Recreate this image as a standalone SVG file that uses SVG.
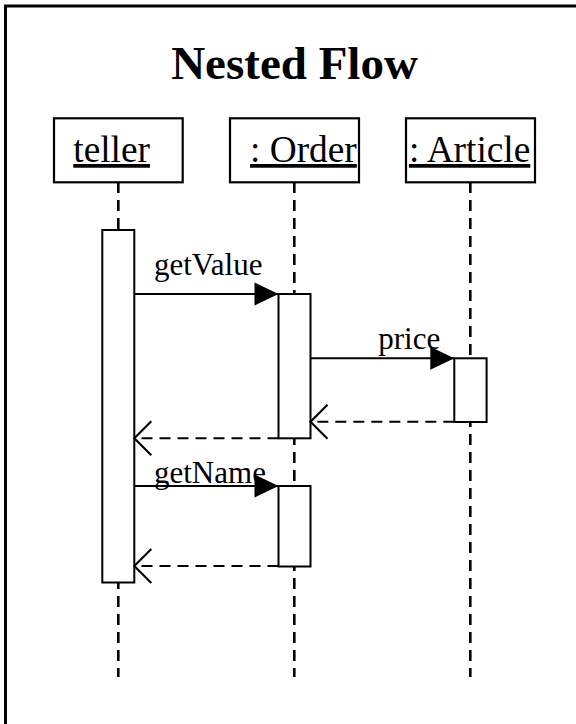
<svg xmlns="http://www.w3.org/2000/svg" width="576" height="724" viewBox="0 0 576 724">
<style>
.frame{fill:none;stroke:#000;stroke-width:3}
.box{fill:#fff;stroke:#000;stroke-width:2.2}
.bar{fill:#fff;stroke:#000;stroke-width:2}
.life{fill:none;stroke:#000;stroke-width:2.6;stroke-dasharray:11 7}
.msg{fill:none;stroke:#000;stroke-width:2}
.ret{fill:none;stroke:#000;stroke-width:2;stroke-dasharray:11 7}
.title{font-family:"Liberation Serif","Times New Roman",serif;font-weight:bold;font-size:47px;fill:#000}
.name{font-family:"Liberation Serif","Times New Roman",serif;font-size:37.33px;fill:#000;text-decoration:underline}
.lbl{font-family:"Liberation Serif","Times New Roman",serif;font-size:31px;fill:#000}
</style>
<defs>
<marker id="filled" markerUnits="userSpaceOnUse" markerWidth="24" markerHeight="23" viewBox="0 0 22 21" refX="22" refY="10.5" orient="auto" overflow="visible">
<path d="M0,0 L22,10.5 L0,21 Z" fill="#000"/>
</marker>
<marker id="open" markerUnits="userSpaceOnUse" markerWidth="18" markerHeight="34" viewBox="0 0 16 32" refX="16" refY="16" orient="auto" overflow="visible">
<path d="M0,0 L16,16 L0,32" fill="none" stroke="#000" stroke-width="2"/>
</marker>
</defs>
<rect class="frame" x="5.5" y="6" width="700" height="800"/>
<text class="title" x="294.5" y="79" text-anchor="middle">Nested Flow</text>
<g id="lifelines">
<line class="life" x1="118.3" y1="182" x2="118.3" y2="677"/>
<line class="life" x1="294.3" y1="182" x2="294.3" y2="677"/>
<line class="life" x1="470.3" y1="182" x2="470.3" y2="677"/>
</g>
<g id="teller">
<rect class="box" x="54" y="118.3" width="128.7" height="64"/>
<text class="name" x="73.3" y="162">teller</text>
</g>
<g id="order">
<rect class="box" x="230" y="118.3" width="129" height="64"/>
<text class="name" x="250" y="162">: Order</text>
</g>
<g id="article">
<rect class="box" x="406" y="118.3" width="129" height="64"/>
<text class="name" x="409" y="162">: Article</text>
</g>
<g id="activations">
<rect id="teller-act" class="bar" x="102.3" y="230" width="32" height="352.5"/>
<rect id="order-act1" class="bar" x="278.5" y="294" width="32" height="144.3"/>
<rect id="article-act" class="bar" x="454.3" y="358.3" width="32.3" height="63.7"/>
<rect id="order-act2" class="bar" x="278.5" y="486" width="32" height="80.5"/>
</g>
<g id="connectors">
<line class="msg" x1="134.3" y1="294" x2="278.5" y2="294" marker-end="url(#filled)"/>
<text class="lbl" x="154" y="275">getValue</text>
<line class="msg" x1="310.5" y1="358.3" x2="454.3" y2="358.3" marker-end="url(#filled)"/>
<text class="lbl" x="378.3" y="349.3">price</text>
<line class="ret" x1="454.3" y1="421.7" x2="310.5" y2="421.7" marker-end="url(#open)"/>
<line class="ret" x1="278.5" y1="438.3" x2="134.3" y2="438.3" marker-end="url(#open)"/>
<line class="msg" x1="134.3" y1="486" x2="278.5" y2="486" marker-end="url(#filled)"/>
<text class="lbl" x="154" y="482.7">getName</text>
<line class="ret" x1="278.5" y1="566" x2="134.3" y2="566" marker-end="url(#open)"/>
</g>
</svg>
